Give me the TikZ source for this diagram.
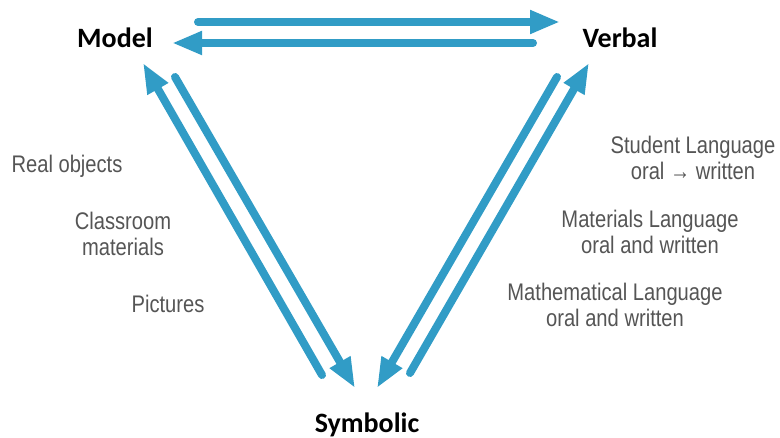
\documentclass[tikz,border=0pt]{standalone}
\usepackage{fontspec}
\setmainfont{Liberation Sans}[FakeStretch=0.84]
\newfontfamily\headfont{Carlito}
\usetikzlibrary{arrows.meta}
\definecolor{flowblue}{RGB}{49,156,198}
\definecolor{notegray}{RGB}{85,85,85}
\tikzset{
  flow/.style={draw=flowblue,line width=6pt,line cap=round,
    -{Triangle[length=22.5pt,width=16.5pt]}},
  corner/.style={font=\headfont\bfseries\fontsize{21}{24}\selectfont,
    inner sep=0pt,anchor=base},
  note/.style={font=\fontsize{18}{19.5}\selectfont,text=notegray,
    inner sep=0pt,anchor=base,align=center}
}

\begin{document}
\begin{tikzpicture}[x=0.75pt,y=-0.75pt]
\useasboundingbox (0,0) rectangle (780,438);
% corners
\node[corner] (model) at (115,48) {Model};
\node[corner] (verbal) at (620,48) {Verbal};
\node[corner] (symbolic) at (367,432) {Symbolic};
% arrow ends
\coordinate (m1) at (198,22);  \coordinate (v1) at (560,22);
\coordinate (v2) at (533,43);  \coordinate (m2) at (172,43);
\coordinate (s1) at (322,375); \coordinate (m3) at (143,63);
\coordinate (m4) at (175,77);  \coordinate (s2) at (355,388);
\coordinate (s3) at (410,373); \coordinate (v3) at (589,63);
\coordinate (v4) at (557,77);  \coordinate (s4) at (377,388);
% arrows
\foreach \a/\b in {m1/v1, v2/m2, s1/m3, m4/s2, s3/v3, v4/s4}{
  \draw[flow] (\a) -- (\b);}
% model side (base = last line)
\node[note] (real) at (67,173) {Real objects};
\node[note] (class) at (123,255) {Classroom\\materials};
\node[note] (pict) at (168,312) {Pictures};
% verbal side
\node[note] (student) at (693,180) {Student Language\\oral → written};
\node[note] (mater) at (650,253) {Materials Language\\oral and written};
\node[note] (math) at (615,326) {Mathematical Language\\oral and written};
\end{tikzpicture}
\end{document}
